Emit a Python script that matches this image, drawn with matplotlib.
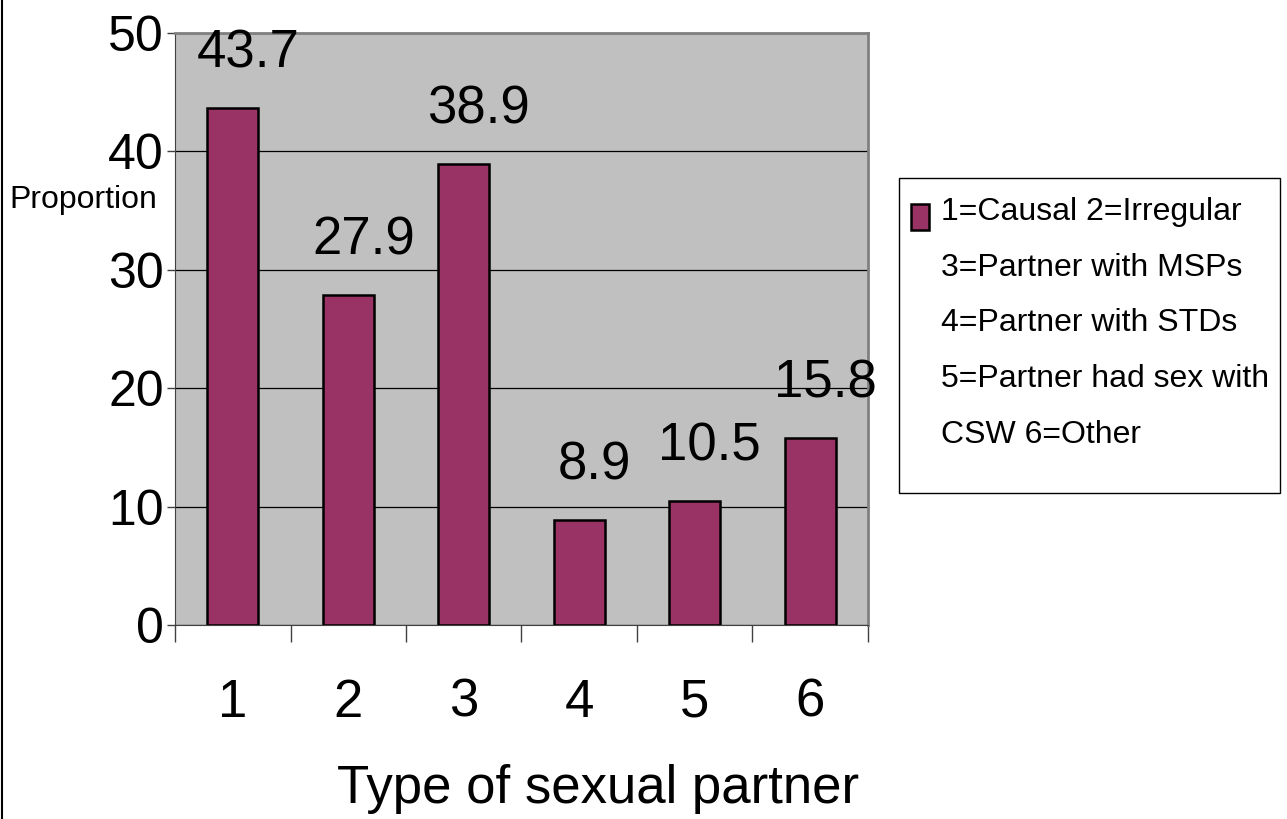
import matplotlib
matplotlib.use("Agg")
import matplotlib.pyplot as plt
from matplotlib.lines import Line2D
from matplotlib.patches import Rectangle
import numpy as np

plt.rcParams["font.family"] = ["Liberation Sans", "DejaVu Sans"]

categories = ["1", "2", "3", "4", "5", "6"]
proportions = [43.7, 27.9, 38.9, 8.9, 10.5, 15.8]
legend_lines = [
    "1=Causal 2=Irregular",
    "3=Partner with MSPs",
    "4=Partner with STDs",
    "5=Partner had sex with",
    "CSW 6=Other",
]

BAR_COLOR = "#993366"

fig = plt.figure(figsize=(12.87, 8.19), dpi=100)
ax = fig.add_axes([0.136, 0.237, 0.5384, 0.7227])
ax.set_facecolor("#c0c0c0")

x = np.arange(len(categories))
ax.bar(x, proportions, width=0.44, color=BAR_COLOR, edgecolor="black",
       linewidth=1.8, zorder=3)

for xi, v in zip(x, proportions):
    ax.text(xi + 0.13, v + 4.6, f"{v}", ha="center", va="center",
            fontsize=38, zorder=4)

ax.set_xlim(-0.5, len(categories) - 0.5)
ax.set_ylim(0, 50)
ax.set_yticks(np.arange(0, 51, 10))
ax.yaxis.grid(True, color="black", linewidth=0.9, zorder=1)
ax.set_axisbelow(True)

ax.set_xticks(x)
ax.set_xticklabels(categories)
ax.set_xticks(np.arange(-0.5, len(categories)), minor=True)
ax.tick_params(axis="x", which="major", length=0, pad=38, labelsize=38)
ax.tick_params(axis="x", which="minor", length=12, width=1.0,
               color="#404040", direction="out")
ax.tick_params(axis="y", length=6, width=1.0, pad=2, labelsize=36,
               color="#404040")

for side in ("top", "right"):
    ax.spines[side].set_color("#808080")
    ax.spines[side].set_linewidth(2.0)
ax.spines["left"].set_color("#404040")
ax.spines["bottom"].set_color("#404040")

fig.text(0.0649, 0.756, "Proportion", ha="center", va="center", fontsize=23)
fig.text(0.465, 0.037, "Type of sexual partner", ha="center",
         va="center", fontsize=38)

# legend drawn as a boxed block on the right
fig.patches.append(Rectangle((899 / 1287, 1 - 493 / 819), 381 / 1287,
                             315 / 819, transform=fig.transFigure,
                             facecolor="white", edgecolor="black",
                             linewidth=1.0))
fig.patches.append(Rectangle((911 / 1287, 1 - 230 / 819), 18 / 1287,
                             26 / 819, transform=fig.transFigure,
                             facecolor=BAR_COLOR, edgecolor="black",
                             linewidth=1.8))
for i, line in enumerate(legend_lines):
    fig.text(941 / 1287, 1 - (212 + i * 55.7) / 819, line, ha="left",
             va="center", fontsize=23)

# thin frame line along the left edge
fig.add_artist(Line2D([0.0015, 0.0015], [0, 1], transform=fig.transFigure,
                      color="black", linewidth=1.5))

fig.savefig("out.png", dpi=100)
